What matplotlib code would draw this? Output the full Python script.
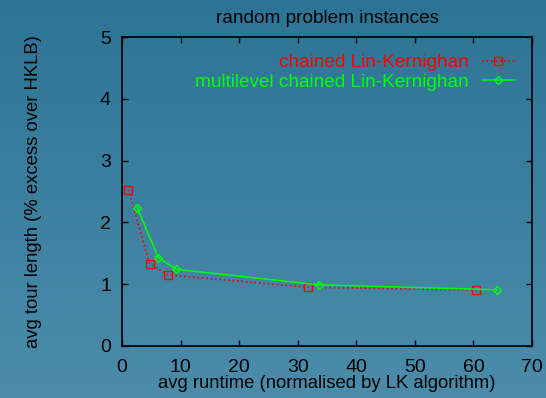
import matplotlib
matplotlib.use('Agg')
import matplotlib.pyplot as plt
import numpy as np

plt.rcParams['font.family'] = ['Liberation Sans', 'DejaVu Sans']

# runtime vs tour length, random instances
clk_runtime = [1.1, 4.7, 7.9, 31.8, 60.5]
clk_excess = [2.53, 1.33, 1.15, 0.95, 0.905]
mlclk_runtime = [2.6, 6.2, 9.3, 33.6, 64.0]
mlclk_excess = [2.24, 1.43, 1.24, 0.99, 0.91]

x_ticks = [0, 10, 20, 30, 40, 50, 60, 70]
y_ticks = [0, 1, 2, 3, 4, 5]

fig = plt.figure(figsize=(5.46, 3.98), dpi=100)

# vertical background gradient over the whole figure
bg = fig.add_axes([0, 0, 1, 1], zorder=-10)
top = np.array([0x2c, 0x74, 0x95]) / 255
bot = np.array([0x4c, 0x8c, 0xaa]) / 255
t = np.linspace(0, 1, 256)[:, None]
grad = top[None, :] * (1 - t) + bot[None, :] * t
bg.imshow(grad[:, None, :], aspect='auto', extent=[0, 1, 0, 1])
bg.axis('off')

ax = fig.add_axes([122 / 546, 1 - 346 / 398, 410 / 546, 309 / 398])
ax.patch.set_alpha(0)

ax.plot(clk_runtime, clk_excess, color='#ff0000', linestyle=':', linewidth=1.2,
        marker='s', markersize=5.5, markerfacecolor='none', markeredgecolor='#ff0000',
        markeredgewidth=1, label='chained Lin-Kernighan')
ax.plot(mlclk_runtime, mlclk_excess, color='#00ff00', linestyle='-', linewidth=1.1,
        marker='D', markersize=4, markerfacecolor='none', markeredgecolor='#00ff00',
        markeredgewidth=1, label='multilevel chained Lin-Kernighan')

ax.set_xlim(0, 70)
ax.set_ylim(0, 5)
ax.set_xticks(x_ticks)
ax.set_yticks(y_ticks)
ax.tick_params(direction='in', top=True, right=True, length=4, width=1,
               labelsize=14, colors='black')
ax.tick_params(axis='x', pad=9)
ax.tick_params(axis='y', pad=8)
for s in ax.spines.values():
    s.set_linewidth(1.2)
    s.set_color('black')

ax.set_xlabel('avg runtime (normalised by LK algorithm)', fontsize=13.3, labelpad=0)
ax.set_ylabel('avg tour length (% excess over HKLB)', fontsize=13.3, labelpad=42)
ax.set_title('random problem instances', fontsize=13.7, pad=10)

leg = ax.legend(loc='upper right', frameon=False, markerfirst=False, fontsize=13.7,
                handlelength=1.75, handletextpad=0.7, labelspacing=0.1,
                borderaxespad=0.5)
for txt, line in zip(leg.get_texts(), leg.get_lines()):
    txt.set_color(line.get_color())

fig.savefig('out.png', dpi=100)
